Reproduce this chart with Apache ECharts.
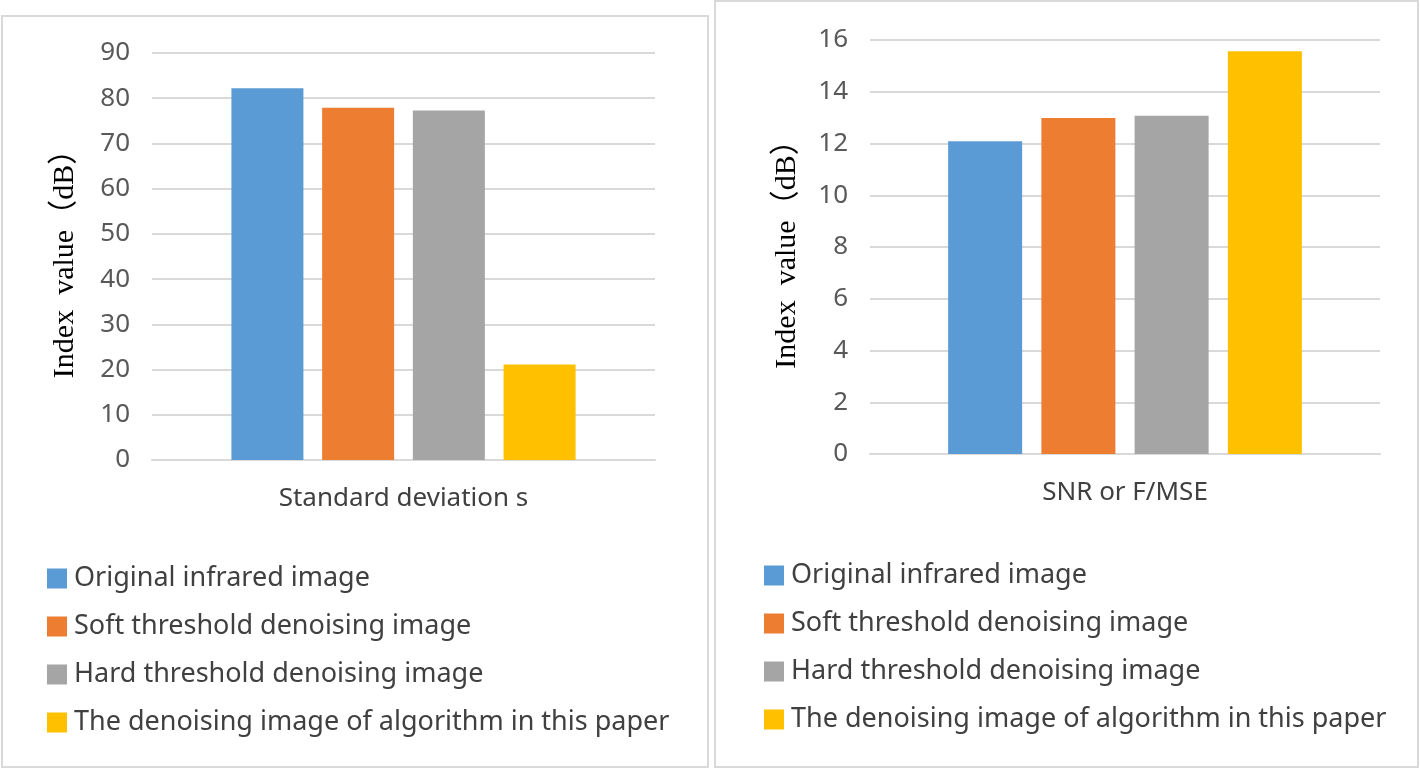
<!DOCTYPE html>
<html><head><meta charset="utf-8">
<script src="https://cdn.jsdelivr.net/npm/echarts@6/dist/echarts.min.js"></script>
<style>html,body{margin:0;padding:0;background:#fff}#c{width:1420px;height:770px}</style>
</head><body><div id="c"></div>
<script>
const seriesNames = ['Original infrared image','Soft threshold denoising image','Hard threshold denoising image','The denoising image of algorithm in this paper'];
const colors = ['#5b9bd5','#ed7d31','#a5a5a5','#ffc000'];
const leftCategories = ['Standard deviation s'];
const rightCategories = ['SNR or F/MSE'];
const stdValues = [82.2, 77.9, 77.3, 21.1];
const snrValues = [12.09, 12.99, 13.07, 15.57];
const leftTicks = {min:0, max:90, interval:10};
const rightTicks = {min:0, max:16, interval:2};
const yName = 'Index  value（dB）';

const txt = '#595959';
const gridCol = '#d9d9d9';
const font = 'Noto Sans';

function yAxis(idx, t, gap){
  return {type:'value', gridIndex:idx, min:t.min, max:t.max, interval:t.interval,
    name:yName, nameLocation:'middle', nameRotate:90, nameGap:gap,
    nameTextStyle:{fontFamily:'Liberation Serif, Noto Sans CJK SC', fontSize:30, color:'#000'},
    axisLabel:{fontFamily:font, fontSize:26, color:txt, margin:22},
    axisLine:{show:false}, axisTick:{show:false},
    splitLine:{lineStyle:{color:gridCol, width:2}}};
}
function xAxis(idx, cats){
  return {type:'category', gridIndex:idx, data:cats,
    axisLabel:{fontFamily:font, fontSize:26, color:'#404040', margin:26},
    axisLine:{lineStyle:{color:gridCol, width:2}}, axisTick:{show:false}};
}
const series = [];
seriesNames.forEach((n,i)=>{
  series.push({name:n, type:'bar', xAxisIndex:0, yAxisIndex:0, data:[stdValues[i]],
    barWidth:72, barGap:'26%', itemStyle:{color:colors[i]}});
});
seriesNames.forEach((n,i)=>{
  series.push({name:n, type:'bar', xAxisIndex:1, yAxisIndex:1, data:[snrValues[i]],
    barWidth:74, barGap:'26%', itemStyle:{color:colors[i]}});
});
function legend(left, top){
  return {orient:'vertical', left:left, top:top, data:seriesNames, icon:'rect',
    itemWidth:20, itemHeight:20, itemGap:21, selectedMode:false,
    textStyle:{fontFamily:font, fontSize:27, color:'#404040', padding:[0,0,0,2]}};
}
const chart = echarts.init(document.getElementById('c'));
chart.setOption({
  animation:false,
  backgroundColor:'#fff',
  graphic:[
    {type:'rect', shape:{x:2, y:16, width:706, height:751}, style:{fill:'none', stroke:gridCol, lineWidth:2}, z:-1},
    {type:'rect', shape:{x:715, y:1, width:703, height:766}, style:{fill:'none', stroke:gridCol, lineWidth:2}, z:-1}
  ],
  grid:[
    {left:152, right:765, top:53, bottom:310},
    {left:870, right:40, top:40, bottom:316}
  ],
  xAxis:[xAxis(0,leftCategories), xAxis(1,rightCategories)],
  yAxis:[yAxis(0,leftTicks,72), yAxis(1,rightTicks,68)],
  legend:[legend(42,560), legend(759,557)],
  series:series
});
</script></body></html>
